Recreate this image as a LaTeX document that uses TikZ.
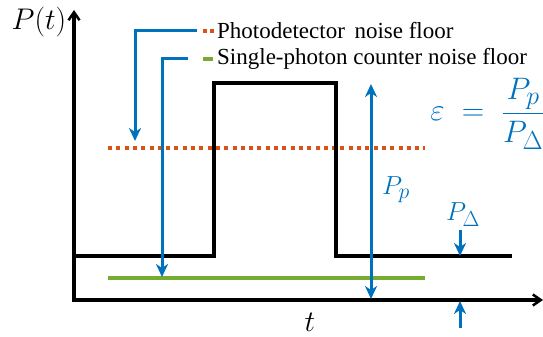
\documentclass[tikz,border=0pt]{standalone}
\usepackage{graphicx}
\usepackage{fontspec}
\setmainfont{Liberation Serif}
\usetikzlibrary{arrows.meta}
\definecolor{mblue}{RGB}{0,114,189}
\definecolor{mred}{RGB}{217,83,25}
\definecolor{mgreen}{RGB}{119,172,48}
\tikzset{
  axis/.style={line width=3.5pt, black, line join=miter},
  signal/.style={line width=3.5pt, black, line join=miter},
  bluearrow/.style={line width=3pt, mblue, -{Stealth[length=13pt,width=12pt,inset=4pt]}},
  reddot/.style={line width=3.5pt, mred, dash pattern=on 4pt off 4.3pt},
  greenline/.style={line width=3.5pt, mgreen},
  legtext/.style={inner sep=0pt, anchor=west, font=\fontsize{23}{26}\selectfont},
  mathlbl/.style={inner sep=0pt, mblue, font=\fontsize{24.88}{30}\selectfont},
  axlbl/.style={inner sep=0pt, font=\fontsize{24.88}{30}\selectfont},
}
\begin{document}
\begin{tikzpicture}[x=1pt,y=-1pt]
\useasboundingbox (0,0) rectangle (543,337);
% axes
\coordinate (ytop) at (74,10);
\coordinate (orig) at (74,300);
\coordinate (xend) at (543,300);
\draw[axis, {Straight Barb[length=8pt,width=11pt,line width=2.5pt]}-{Straight Barb[length=8pt,width=11pt,line width=2.5pt]}] (ytop) -- (orig) -- (xend);
\node[axlbl] (Pt) at (39,22) {\scalebox{1.2}{$P(t)$}};
\node[axlbl] (tl) at (310,322) {\scalebox{1.2}{$t$}};
% noise floors
\coordinate (r1) at (108,148); \coordinate (r2) at (425,148);
\draw[reddot] (r1) -- (r2);
\coordinate (g1) at (108,278); \coordinate (g2) at (425,278);
\draw[greenline] (g1) -- (g2);
% signal
\coordinate (s0) at (74,256);
\coordinate (s1) at (214,256);
\coordinate (s2) at (214,83);
\coordinate (s3) at (336,83);
\coordinate (s4) at (336,256);
\coordinate (s5) at (512,256);
\draw[signal] (s0) -- (s1) -- (s2) -- (s3) -- (s4) -- (s5);
% legend
\coordinate (l1s) at (203,31); \coordinate (l1e) at (215,31);
\draw[reddot, dash pattern=on 3.5pt off 3.5pt] (l1s) -- (l1e);
\node[legtext] (leg1) at (217,31) {Photodetector\, noise floor};
\coordinate (l2s) at (203,59); \coordinate (l2e) at (213,59);
\draw[greenline] (l2s) -- (l2e);
\node[legtext] (leg2) at (217,59) {Single-photon counter noise floor};
% connectors
\coordinate (c1a) at (197,31); \coordinate (c1b) at (135,31); \coordinate (c1c) at (135,141);
\draw[bluearrow] (c1a) -- (c1b) -- (c1c);
\coordinate (c2a) at (188,59); \coordinate (c2b) at (162,59); \coordinate (c2c) at (162,277);
\draw[bluearrow] (c2a) -- (c2b) -- (c2c);
% P_p arrow
\coordinate (pptop) at (371,84); \coordinate (ppbot) at (371,299);
\draw[bluearrow, {Stealth[length=13pt,width=12pt,inset=4pt]}-{Stealth[length=13pt,width=12pt,inset=4pt]}] (pptop) -- (ppbot);
\node[mathlbl] (pp) at (396,190) {\scalebox{1.05}{$P_p$}};
% P_Delta arrows
\coordinate (pd1) at (460,230); \coordinate (pd2) at (460,256);
\draw[bluearrow] (pd1) -- (pd2);
\coordinate (pd3) at (460,328); \coordinate (pd4) at (460,301);
\draw[bluearrow] (pd3) -- (pd4);
\node[mathlbl] (pdl) at (463,215) {\scalebox{1.05}{$P_\Delta$}};
% epsilon
\node[mathlbl, anchor=east] (eps) at (545,114) {\scalebox{1.25}{$\displaystyle\varepsilon\;=\;\frac{P_p}{P_\Delta}$}};
\end{tikzpicture}
\end{document}
